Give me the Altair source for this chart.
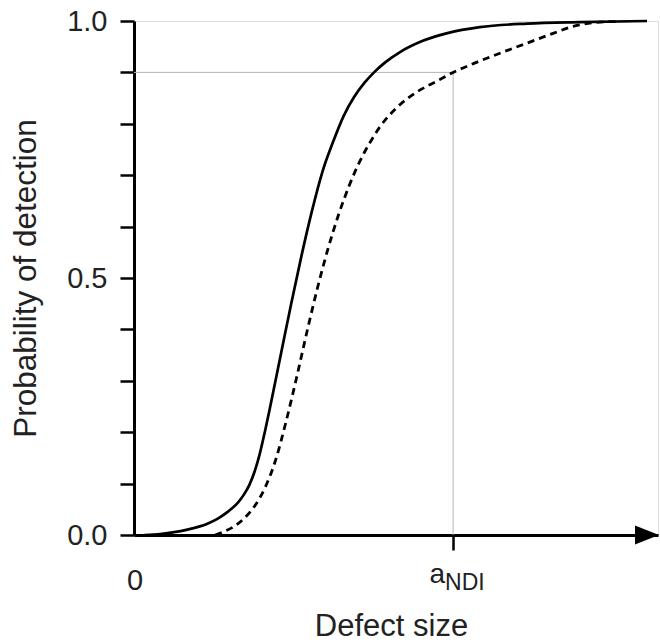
import altair as alt
import pandas as pd

# ---- data ----
solid_size = [2.0, 5.0, 10.0, 14.0, 16.0, 18.0, 20.0, 21.0, 22.0, 23.0, 24.0, 25.0, 26.0, 28.0,
              30.0, 32.0, 34.0, 36.0, 38.0, 40.0, 42.0, 44.0, 46.0, 48.0, 51.0, 55.0, 60.0,
              66.0, 75.0, 85.0, 97.9]
solid_pod = [0.0, 0.002, 0.010, 0.022, 0.032, 0.046, 0.065, 0.079, 0.097, 0.123, 0.158, 0.202,
             0.25, 0.35, 0.45, 0.545, 0.632, 0.708, 0.765, 0.815, 0.852, 0.880, 0.902, 0.920,
             0.941, 0.961, 0.977, 0.988, 0.995, 0.998, 1.0]

dashed_size = [15.5, 17.0, 19.0, 21.0, 23.0, 25.0, 27.0, 29.0, 31.0, 33.0, 35.0, 37.0, 39.0,
               41.0, 43.0, 45.0, 47.0, 50.0, 54.0, 58.0, 60.9, 65.0, 70.0, 75.0, 80.0, 84.0,
               88.0, 92.0]
dashed_pod = [0.0, 0.006, 0.016, 0.032, 0.056, 0.092, 0.145, 0.22, 0.305, 0.395, 0.48, 0.556,
              0.622, 0.678, 0.725, 0.763, 0.795, 0.83, 0.862, 0.884, 0.90, 0.918, 0.938, 0.957,
              0.976, 0.99, 0.997, 0.999]

a_ndi = 60.9
pod_level = 0.9
x_max = 100
y_tick_values = [0.0, 0.1, 0.2, 0.3, 0.4, 0.5, 0.6, 0.7, 0.8, 0.9, 1.0]

FONT = "Liberation Sans"
TXT = "#222222"

solid_df = pd.DataFrame({"size": solid_size, "pod": solid_pod})
dashed_df = pd.DataFrame({"size": dashed_size, "pod": dashed_pod})
guide_df = pd.DataFrame({
    "x": [0, a_ndi], "x2": [a_ndi, a_ndi],
    "y": [pod_level, 0], "y2": [pod_level, pod_level],
})

x_scale = alt.Scale(domain=[0, x_max], nice=False, zero=False)
y_scale = alt.Scale(domain=[0, 1], nice=False)

x_axis = alt.Axis(
    values=[a_ndi], labels=False, grid=False,
    domainColor="black", domainWidth=3,
    tickColor="black", tickWidth=2.5, tickSize=15,
    title="Defect size", titleFont=FONT, titleFontSize=31, titleFontWeight="normal",
    titleColor=TXT, titleX=257, titleY=100, titleAlign="center", titleBaseline="alphabetic",
)
y_axis = alt.Axis(
    values=y_tick_values, grid=False,
    labelExpr="(datum.value == 0 || datum.value == 1 || abs(datum.value - 0.5) < 1e-6) ? format(datum.value, '.1f') : ''",
    labelFont=FONT, labelFontSize=29, labelColor=TXT, labelPadding=13,
    labelFlush=False, labelOverlap=False,
    domainColor="black", domainWidth=3,
    tickColor="black", tickWidth=2.5, tickSize=14,
    title="Probability of detection", titleFont=FONT, titleFontSize=31.5, titleFontWeight="normal",
    titleColor=TXT, titleX=-108, titleY=257, titleAngle=-90, titleAlign="center",
    titleBaseline="middle",
)

guides = alt.Chart(guide_df).mark_rule(color="#b5b5b5", strokeWidth=1).encode(
    x=alt.X("x:Q", scale=x_scale, axis=x_axis),
    x2="x2:Q",
    y=alt.Y("y:Q", scale=y_scale, axis=y_axis),
    y2="y2:Q",
)

solid = alt.Chart(solid_df).mark_line(color="black", strokeWidth=2.7, interpolate="monotone").encode(
    x=alt.X("size:Q", scale=x_scale),
    y=alt.Y("pod:Q", scale=y_scale),
)

dashed = alt.Chart(dashed_df).mark_line(
    color="black", strokeWidth=2.8, strokeDash=[7, 5], interpolate="monotone"
).encode(
    x=alt.X("size:Q", scale=x_scale),
    y=alt.Y("pod:Q", scale=y_scale),
)

arrow = alt.Chart(pd.DataFrame({"x": [x_max], "y": [0]})).mark_point(
    shape="M-1,-0.8L1,0L-1,0.8Z", size=576, filled=True, color="black", opacity=1,
    xOffset=-11,
).encode(
    x=alt.X("x:Q", scale=x_scale),
    y=alt.Y("y:Q", scale=y_scale),
)

label_zero = alt.Chart(pd.DataFrame({"x": [0], "y": [0], "t": ["0"]})).mark_text(
    font=FONT, fontSize=29, color=TXT, align="center", baseline="alphabetic", dy=55, dx=1,
).encode(x=alt.X("x:Q", scale=x_scale), y=alt.Y("y:Q", scale=y_scale), text="t:N")

label_a = alt.Chart(pd.DataFrame({"x": [a_ndi], "y": [0], "t": ["a"]})).mark_text(
    font=FONT, fontSize=28, color=TXT, align="right", baseline="alphabetic", dy=48, dx=-8,
).encode(x=alt.X("x:Q", scale=x_scale), y=alt.Y("y:Q", scale=y_scale), text="t:N")

label_ndi = alt.Chart(pd.DataFrame({"x": [a_ndi], "y": [0], "t": ["NDI"]})).mark_text(
    font=FONT, fontSize=23, color=TXT, align="left", baseline="alphabetic", dy=55, dx=-8,
).encode(x=alt.X("x:Q", scale=x_scale), y=alt.Y("y:Q", scale=y_scale), text="t:N")

chart = alt.layer(guides, solid, dashed, arrow, label_zero, label_a, label_ndi).properties(
    width=524, height=514,
    autosize=alt.AutoSizeParams(type="none"),
    padding={"left": 134, "top": 21, "right": 2, "bottom": 108},
    background="white",
).configure_view(stroke=None).configure(font=FONT)

chart.save("out.html", embed_options={"renderer": "svg", "actions": False})
